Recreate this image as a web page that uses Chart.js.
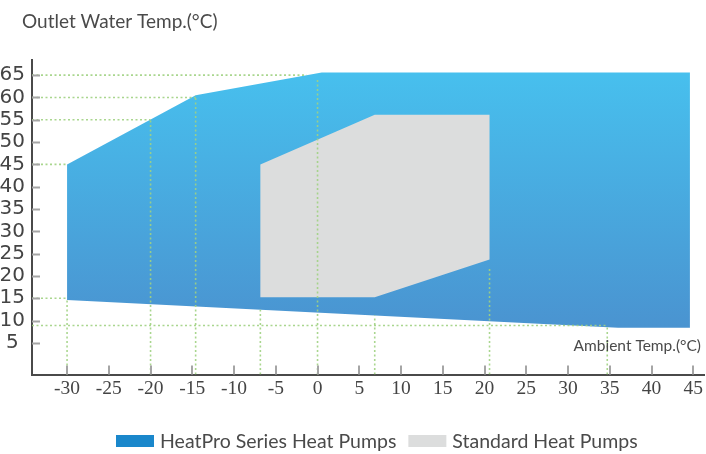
<!DOCTYPE html>
<html>
<head>
<meta charset="utf-8">
<script src="https://cdn.jsdelivr.net/npm/chart.js@4.4.1/dist/chart.umd.min.js"></script>
<style>
  html, body { margin: 0; padding: 0; background: #fff; }
  #wrap { width: 706px; height: 454px; }
</style>
</head>
<body>
<div id="wrap"><canvas id="chart" width="706" height="454"></canvas></div>
<script>
// axes: ambient temp (x) / outlet water temp (y)
const xTicks = [-30, -25, -20, -15, -10, -5, 0, 5, 10, 15, 20, 25, 30, 35, 40, 45];
const yTicks = [5, 10, 15, 20, 25, 30, 35, 40, 45, 50, 55, 60, 65];

// HeatPro Series envelope (corner points, in order)
const heatproX = [-30, -14.6, 0.5, 44.6, 44.6, 36, -30, -30];
const heatproY = [45, 60.5, 65.6, 65.6, 8.4, 8.4, 14.6, 45];

// Standard heat pump envelope
const standardX = [-6.85, 6.85, 20.6, 20.6, 6.85, -6.85, -6.85];
const standardY = [45, 56.1, 56.1, 23.7, 15.2, 15.2, 45];

// dotted guide lines
const hGuideY = [65, 60, 55, 45, 15, 8.9];
const hGuideEnd = [-1.3, -14.6, -20, -30, -30, 34.7];
const vGuideX = [-30, -20, -14.6, -6.85, 0, 6.85, 20.6, 34.7];
const vGuideTop = [14.6, 55, 60.5, 12.4, 64.4, 11.1, 21.9, 8.5];

const xMin = -34.2, xMax = 46.3, yMin = -2.1, yMax = 68.4;

const labels = ["HeatPro Series Heat Pumps", "Standard Heat Pumps"];
const legendColors = ["#1a87cb", "#dcdddd"];

const toPts = (xs, ys) => xs.map((x, i) => ({ x, y: ys[i] }));

function blueFill(ctx) {
  const chart = ctx.chart;
  if (!chart.chartArea) return "#46aee2";
  const y = chart.scales.y;
  const g = chart.ctx.createLinearGradient(0, y.getPixelForValue(66), 0, y.getPixelForValue(8));
  g.addColorStop(0, "#47c0ee");
  g.addColorStop(1, "#4a93d0");
  return g;
}

const guideStyle = {
  borderColor: "rgba(160,210,130,0.9)",
  borderWidth: 1.6,
  borderDash: [2, 2.5],
  pointRadius: 0,
  fill: false,
  order: 0,
};

const datasets = [
  {
    label: labels[0],
    data: toPts(heatproX, heatproY),
    backgroundColor: blueFill,
    borderWidth: 0,
    pointRadius: 0,
    fill: "shape",
    tension: 0,
    order: 10,
  },
  {
    label: labels[1],
    data: toPts(standardX, standardY),
    backgroundColor: "#dcdddd",
    borderWidth: 0,
    pointRadius: 0,
    fill: "shape",
    tension: 0,
    order: 5,
  },
];

hGuideY.forEach((v, i) => {
  datasets.push({ ...guideStyle, label: "h" + i, data: [{ x: xMin, y: v }, { x: hGuideEnd[i], y: v }] });
});
vGuideX.forEach((v, i) => {
  datasets.push({ ...guideStyle, label: "v" + i, data: [{ x: v, y: yMin }, { x: v, y: vGuideTop[i] }] });
});

// tick marks inside the plot, titles and legend
const decor = {
  id: "decor",
  afterDraw(chart) {
    const { ctx, chartArea: a, scales } = chart;
    ctx.save();
    ctx.strokeStyle = "#a5a5a5";
    ctx.lineWidth = 2;
    ctx.beginPath();
    yTicks.forEach((t) => {
      const py = Math.round(scales.y.getPixelForValue(t)) + 0.5;
      ctx.moveTo(a.left, py);
      ctx.lineTo(a.left + 8, py);
    });
    xTicks.forEach((t) => {
      const px = Math.round(scales.x.getPixelForValue(t));
      ctx.moveTo(px, a.bottom - 9);
      ctx.lineTo(px, a.bottom);
    });
    ctx.stroke();

    ctx.fillStyle = "#4a4a4a";
    ctx.textBaseline = "alphabetic";
    ctx.font = "19px Lato";
    ctx.textAlign = "left";
    ctx.fillText("Outlet Water Temp.(°C)", 22, 28);

    ctx.font = "15.5px Lato";
    ctx.textAlign = "right";
    ctx.fillText("Ambient Temp.(°C)", 701, 351);

    // legend
    ctx.font = "19.5px Lato";
    ctx.textAlign = "left";
    let x = 116;
    labels.forEach((lab, i) => {
      ctx.fillStyle = legendColors[i];
      ctx.fillRect(x, 435, 38, 12);
      x += 38 + 6;
      ctx.fillStyle = "#4a4a4a";
      ctx.fillText(lab, x, 448);
      x += ctx.measureText(lab).width + 12;
    });
    ctx.restore();
  },
};

new Chart(document.getElementById("chart"), {
  type: "line",
  data: { datasets },
  options: {
    responsive: false,
    animation: false,
    layout: { padding: { top: 60, left: 0, right: 0, bottom: 0 } },
    plugins: { legend: { display: false }, tooltip: { enabled: false } },
    scales: {
      x: {
        type: "linear",
        min: xMin,
        max: xMax,
        afterBuildTicks: (s) => { s.ticks = xTicks.map((v) => ({ value: v })); },
        afterFit: (s) => { s.height = 79.5; },
        grid: { color: "transparent", drawTicks: false },
        border: { color: "#4a4a4a", width: 2 },
        ticks: {
          color: "#444",
          font: { family: "Liberation Sans Narrow", size: 19.5 },
          padding: 3,
          maxRotation: 0,
          autoSkip: false,
        },
      },
      y: {
        type: "linear",
        min: yMin,
        max: yMax,
        afterBuildTicks: (s) => { s.ticks = yTicks.map((v) => ({ value: v })); },
        afterFit: (s) => { s.width = 32; },
        grid: { color: "transparent", drawTicks: false },
        border: { color: "#4a4a4a", width: 2 },
        ticks: {
          color: "#444",
          font: { family: "DejaVu Sans", size: 20 },
          padding: 7,
          crossAlign: "center",
          autoSkip: false,
        },
      },
    },
  },
  plugins: [decor],
});
</script>
</body>
</html>
